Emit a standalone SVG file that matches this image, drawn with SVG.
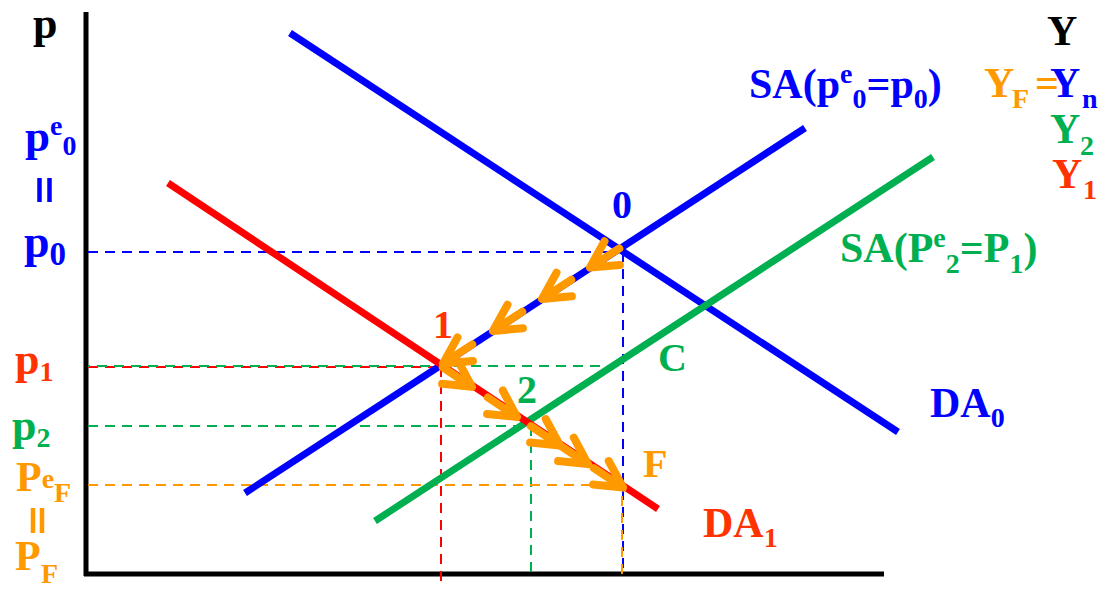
<svg xmlns="http://www.w3.org/2000/svg" width="1101" height="589" viewBox="0 0 1101 589">
<style>
text{font-family:"Liberation Serif","Times New Roman",serif;font-weight:bold;font-size:42px}
.b{fill:#0000ff}.r{fill:#ff3300}.g{fill:#00b050}.o{fill:#ff9900}.k{fill:#000}
.s{font-size:28px}
.curve{fill:none;stroke-width:7}
.dash{fill:none;stroke-width:2;stroke-dasharray:10 7}
.arr{fill:none;stroke:#ff9900;stroke-width:8;stroke-linecap:round;stroke-linejoin:round}
.bar{stroke-width:4.5}
</style>
<rect width="1101" height="589" fill="#fff"/>
<g id="axes" stroke="#000" stroke-width="5" fill="none">
<line x1="86" y1="12" x2="86" y2="576"/>
<line x1="84" y1="574" x2="884" y2="574"/>
</g>
<g id="connectors">
<line class="dash" stroke="#0000ff" x1="88" y1="252" x2="623" y2="252"/>
<line class="dash" stroke="#0000ff" x1="623" y1="252" x2="623" y2="572"/>
<line class="dash" stroke="#ff0000" x1="88" y1="367" x2="441" y2="367"/>
<line class="dash" stroke="#ff0000" x1="441" y1="367" x2="441" y2="584"/>
<line class="dash" stroke="#00b050" x1="88" y1="366" x2="614" y2="366" stroke-dashoffset="8"/>
<line class="dash" stroke="#00b050" x1="88" y1="426" x2="530" y2="426"/>
<line class="dash" stroke="#00b050" x1="531" y1="426" x2="531" y2="576"/>
<line class="dash" stroke="#ff9900" x1="88" y1="485" x2="622" y2="485"/>
<line class="dash" stroke="#ff9900" x1="622" y1="487" x2="622" y2="574" stroke-dashoffset="8"/>
</g>
<g id="DA0"><line class="curve" stroke="#0000ff" x1="290" y1="33" x2="898" y2="432"/></g>
<g id="SA0"><line class="curve" stroke="#0000ff" x1="245" y1="493" x2="805" y2="128"/></g>
<g id="SA2"><line class="curve" stroke="#00b050" x1="375" y1="521" x2="933" y2="157"/></g>
<g id="DA1"><line class="curve" stroke="#ff0000" x1="168" y1="183" x2="658" y2="509"/></g>
<g id="arrows">
<path class="arr" d="M604.5,241.3L590,267.5L619.9,264.9M590,267.5L619.3,248.4"/>
<path class="arr" d="M556.5,272.7L542,298.9L571.9,296.3M542,298.9L571.3,279.8"/>
<path class="arr" d="M507.5,304.7L493,330.9L522.9,328.3M493,330.9L522.3,311.8"/>
<path class="arr" d="M457.5,337.4L443,363.6L472.9,361M443,363.6L472.3,344.5"/>
<path class="arr" d="M442.1,383.8L472,386.8L457.8,360.4M472,386.8L442.9,367.4"/>
<path class="arr" d="M487.1,413.9L517,416.9L502.8,390.5M517,416.9L487.9,397.5"/>
<path class="arr" d="M530.1,442.5L560,445.5L545.8,419.1M560,445.5L530.9,426.1"/>
<path class="arr" d="M558.1,461.1L588,464.1L573.8,437.7M588,464.1L558.9,444.7"/>
<path class="arr" d="M593.1,484.5L623,487.5L608.8,461.1M623,487.5L593.9,468.1"/>
</g>
<g id="axis-labels">
<text class="k" x="33" y="38" style="font-size:44px">p</text>
<text class="k" x="1047" y="45">Y</text>
</g>
<g id="price-labels">
<text class="b" x="25" y="151" style="font-size:45px">p<tspan class="s" dy="-16">e</tspan><tspan class="s" dy="20">0</tspan></text>
<g id="eq-blue" stroke="#0000ff" class="bar"><line x1="39.5" y1="178" x2="39.5" y2="202"/><line x1="49.5" y1="178" x2="49.5" y2="202"/></g>
<text class="b" x="24" y="257" style="font-size:46px">p<tspan dy="8" style="font-size:33px">0</tspan></text>
<text class="r" x="15" y="374" style="font-size:44px">p<tspan class="s" dy="7">1</tspan></text>
<text class="g" x="12" y="440" style="font-size:44px">p<tspan class="s" dy="7">2</tspan></text>
<text class="o" x="16" y="491">P<tspan class="s" dy="-3">e</tspan><tspan class="s" dy="14">F</tspan></text>
<g id="eq-orange" stroke="#ff9900" class="bar"><line x1="33" y1="508" x2="33" y2="533"/><line x1="42" y1="508" x2="42" y2="533"/></g>
<text class="o" x="15" y="570">P<tspan class="s" x="41" dy="13">F</tspan></text>
</g>
<g id="output-labels">
<text class="o" y="97"><tspan x="984">Y</tspan><tspan class="s" x="1012" dy="11">F</tspan><tspan x="1035" dy="-11">=</tspan></text>
<text class="b" y="97"><tspan x="1050">Y</tspan><tspan class="s" x="1082" dy="11">n</tspan></text>
<text class="g" y="143"><tspan x="1050">Y</tspan><tspan class="s" x="1080" dy="12">2</tspan></text>
<text class="r" y="188"><tspan x="1052">Y</tspan><tspan class="s" x="1083" dy="11">1</tspan></text>
</g>
<g id="curve-labels">
<text class="b" x="749" y="98">SA(p<tspan class="s" dy="-15">e</tspan><tspan class="s" dy="25">0</tspan><tspan dy="-10">=p</tspan><tspan class="s" dy="10">0</tspan><tspan dy="-10">)</tspan></text>
<text class="g" x="840" y="262">SA(P<tspan class="s" dy="-15">e</tspan><tspan class="s" dy="26">2</tspan><tspan dy="-11">=P</tspan><tspan class="s" dy="11">1</tspan><tspan dy="-11">)</tspan></text>
<text class="b" x="930" y="417">DA<tspan class="s" dy="10">0</tspan></text>
<text class="r" x="703" y="537">DA<tspan class="s" dy="10">1</tspan></text>
</g>
<g id="point-labels">
<text class="b" x="612" y="218" style="font-size:40px">0</text>
<text class="r" x="433" y="338" style="font-size:40px">1</text>
<text class="g" x="517" y="403" style="font-size:40px">2</text>
<text class="g" x="658" y="371" style="font-size:40px">C</text>
<text class="o" x="643" y="477" style="font-size:40px">F</text>
</g>
</svg>
